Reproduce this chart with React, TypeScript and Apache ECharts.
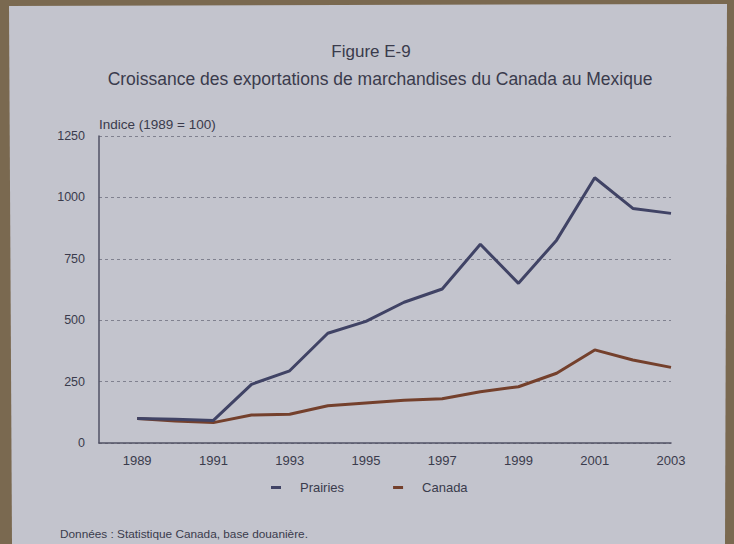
import React, { useEffect, useRef } from "react";
import * as echarts from "echarts";

const years = [1989, 1990, 1991, 1992, 1993, 1994, 1995, 1996, 1997, 1998, 1999, 2000, 2001, 2002, 2003];
const prairies = [100, 97, 92, 239, 294, 447, 495, 573, 627, 809, 650, 826, 1080, 955, 935];
const canada = [100, 90, 83, 114, 117, 152, 163, 174, 180, 209, 229, 284, 379, 338, 308];
const yTicks = [0, 250, 500, 750, 1000, 1250];

const title = "Figure E-9";
const subtitle = "Croissance des exportations de marchandises du Canada au Mexique";
const yName = "Indice (1989 = 100)";
const source = "Données : Statistique Canada, base douanière.";

const FONT = "'Liberation Sans', Arial, sans-serif";
const INK = "#3a3b4c";

export default function App() {
  const ref = useRef<HTMLDivElement>(null);
  useEffect(() => {
    if (!ref.current) return;
    const chart = echarts.init(ref.current, undefined, { renderer: "svg" });
    chart.setOption({
      animation: false,
      backgroundColor: "#7a6950",
      textStyle: { fontFamily: FONT },
      graphic: [
        {
          type: "polygon",
          z: -10,
          shape: { points: [[9, 6], [727, 4], [725, 544], [12, 544]] },
          style: { fill: "#c3c4cd" },
        },
        {
          type: "text",
          x: 371,
          y: 43,
          style: { text: title, font: `17px ${FONT}`, fill: INK, textAlign: "center" },
        },
        {
          type: "text",
          x: 380,
          y: 70,
          style: { text: subtitle, font: `17.5px ${FONT}`, fill: INK, textAlign: "center" },
        },
        {
          type: "text",
          x: 60,
          y: 528,
          style: { text: source, font: `11.8px ${FONT}`, fill: INK },
        },
      ],
      grid: { left: 99, right: 63, top: 136, bottom: 101, containLabel: false },
      legend: {
        top: 476,
        left: 266,
        itemWidth: 10,
        itemHeight: 3,
        itemGap: 49,
        icon: "rect",
        textStyle: { fontSize: 13, color: INK, fontFamily: FONT, padding: [0, 0, 0, 14] },
        data: ["Prairies", "Canada"],
      },
      xAxis: {
        type: "value",
        min: 1988,
        max: 2003,
        interval: 1,
        axisLine: { show: true, lineStyle: { color: "#515264", width: 1.5 } },
        axisTick: { show: false },
        splitLine: { show: false },
        axisLabel: {
          color: INK,
          fontSize: 13,
          margin: 11,
          fontFamily: FONT,
          formatter: (v: number) => (v % 2 === 1 ? String(v) : ""),
        },
      },
      yAxis: {
        type: "value",
        min: yTicks[0],
        max: yTicks[yTicks.length - 1],
        interval: 250,
        name: yName,
        nameLocation: "end",
        nameGap: 5,
        nameTextStyle: { align: "left", fontSize: 13.5, color: INK, fontFamily: FONT },
        axisLine: { show: true, lineStyle: { color: "#515264", width: 1.5 } },
        axisTick: { show: false },
        axisLabel: {
          color: INK,
          fontSize: 12.5,
          margin: 14,
          fontFamily: FONT,
          formatter: (v: number) => String(v),
        },
        splitLine: { show: true, lineStyle: { color: "#80818f", type: [3, 3], width: 1 } },
      },
      series: [
        {
          name: "Prairies",
          type: "line",
          data: years.map((y, i) => [y, prairies[i]]),
          symbol: "none",
          color: "#404365",
          lineStyle: { width: 3, color: "#404365" },
          z: 3,
        },
        {
          name: "Canada",
          type: "line",
          data: years.map((y, i) => [y, canada[i]]),
          symbol: "none",
          color: "#74402c",
          lineStyle: { width: 3, color: "#74402c" },
          z: 2,
        },
      ],
    });
    return () => chart.dispose();
  }, []);
  return (
    <div
      ref={ref}
      style={{ position: "fixed", left: 0, top: 0, width: 734, height: 544 }}
    />
  );
}
